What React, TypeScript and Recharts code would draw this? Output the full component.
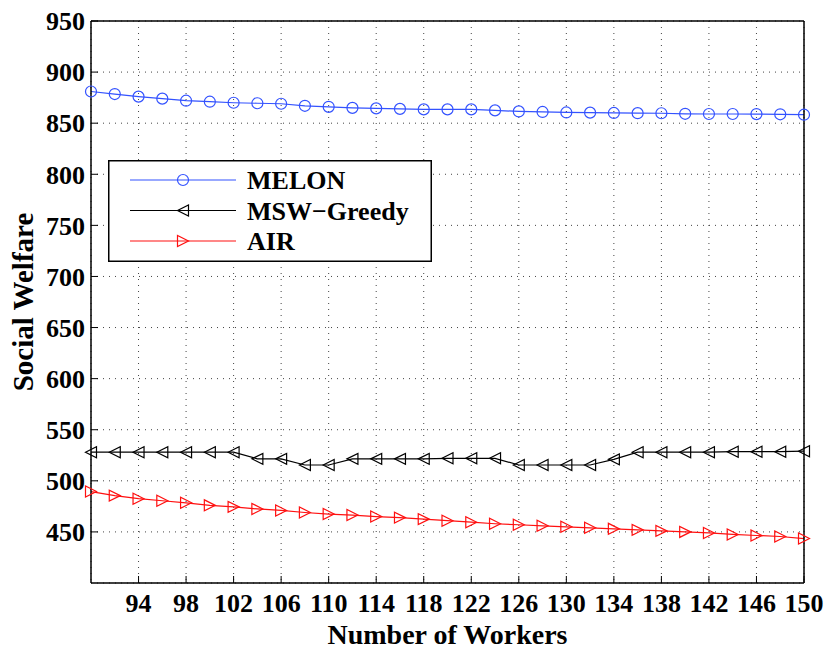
import { LineChart, Line, XAxis, YAxis, CartesianGrid, Legend } from 'recharts';

const workers = [90, 92, 94, 96, 98, 100, 102, 104, 106, 108, 110, 112, 114, 116, 118, 120, 122, 124, 126, 128, 130, 132, 134, 136, 138, 140, 142, 144, 146, 148, 150];
const melon = [881, 878.5, 876, 874, 872, 871, 870, 869.5, 869, 867, 866, 865, 864.5, 864, 863.5, 863.5, 863.5, 862.5, 861.5, 861, 860.5, 860.3, 860, 859.8, 859.7, 859.2, 859, 859, 858.9, 858.7, 858.3];
const mswGreedy = [528, 528, 528, 528, 528, 528, 528, 521.5, 521.5, 515.5, 515.5, 521.5, 521.5, 521.5, 521.5, 522, 522, 522, 515.5, 515.5, 515.5, 515.5, 521, 528, 528, 528, 528, 528.5, 528.5, 528.5, 529];
const air = [489.5, 485.5, 482.5, 480.5, 478.5, 476, 474.5, 472.5, 471, 469, 467.5, 466.5, 465, 464, 462.5, 461, 459.5, 458, 457, 456, 455, 454, 453, 452, 451, 450, 449, 447.5, 446.5, 445.5, 443.5];
const xTicks = [94, 98, 102, 106, 110, 114, 118, 122, 126, 130, 134, 138, 142, 146, 150];
const yTicks = [450, 500, 550, 600, 650, 700, 750, 800, 850, 900, 950];

const data = workers.map((w, i) => ({ workers: w, melon: melon[i], msw: mswGreedy[i], air: air[i] }));

const FONT = '"Liberation Serif", "Times New Roman", serif';
const BLUE = '#3352ff';
const RED = '#ff1010';
const BLACK = '#000000';

type Shape = 'circle' | 'left' | 'right';

function marker(shape: Shape, cx: number, cy: number, color: string, key?: number | string) {
  const s = 5.5;
  if (shape === 'circle') {
    return <circle key={key} cx={cx} cy={cy} r={s} fill="none" stroke={color} strokeWidth={1.2} />;
  }
  const d = shape === 'left'
    ? `M${cx - s},${cy} L${cx + s},${cy - s} L${cx + s},${cy + s} Z`
    : `M${cx + s},${cy} L${cx - s},${cy - s} L${cx - s},${cy + s} Z`;
  return <path key={key} d={d} fill="none" stroke={color} strokeWidth={1.2} />;
}

const dotFor = (shape: Shape, color: string) => (props: any) => marker(shape, props.cx, props.cy, color, props.index);

const series = [
  { key: 'melon', name: 'MELON', color: BLUE, shape: 'circle' as Shape },
  { key: 'msw', name: 'MSW\u2212Greedy', color: BLACK, shape: 'left' as Shape },
  { key: 'air', name: 'AIR', color: RED, shape: 'right' as Shape },
];

function LegendBox() {
  return (
    <svg width={324} height={102} style={{ display: 'block' }}>
      <rect x={0.75} y={0.75} width={322.5} height={100.5} fill="#fff" stroke="#000" strokeWidth={1.5} />
      {series.map((s, i) => {
        const y = 20 + i * 30.5;
        return (
          <g key={s.key}>
            <line x1={22} x2={128} y1={y} y2={y} stroke={s.color} strokeWidth={1.2} />
            {marker(s.shape, 75, y, s.color)}
            <text x={139} y={y} dy="0.35em" fontFamily={FONT} fontWeight="bold" fontSize={26} fill="#000">{s.name}</text>
          </g>
        );
      })}
    </svg>
  );
}

const tickStyle = { fill: '#000', fontSize: 26, fontWeight: 'bold', fontFamily: FONT };
const axisLine = { stroke: '#000', strokeWidth: 1.5 };
const tickLine = { stroke: '#000', strokeWidth: 1 };

export default function App() {
  return (
    <div style={{ width: 830, height: 653, background: '#fff' }}>
      <style>{'body{margin:0}'}</style>
      <LineChart width={830} height={653} data={data} margin={{ top: 0, right: 0, bottom: 0, left: 0 }}>
        <CartesianGrid stroke="#444" strokeDasharray="1 5" strokeWidth={1} />
        <XAxis
          dataKey="workers"
          type="number"
          domain={[90, 150]}
          ticks={xTicks}
          height={70}
          tick={tickStyle}
          tickSize={-7}
          tickMargin={18}
          axisLine={axisLine}
          tickLine={tickLine}
          label={{ value: 'Number of Workers', position: 'insideBottom', offset: 9, fill: '#000', fontSize: 28, fontWeight: 'bold', fontFamily: FONT }}
        />
        <XAxis
          xAxisId="top"
          orientation="top"
          dataKey="workers"
          type="number"
          domain={[90, 150]}
          ticks={xTicks}
          height={21}
          tick={false}
          tickSize={-7}
          axisLine={axisLine}
          tickLine={tickLine}
        />
        <YAxis
          type="number"
          domain={[400, 950]}
          ticks={yTicks}
          width={91}
          tick={tickStyle}
          tickSize={-7}
          tickMargin={13}
          axisLine={axisLine}
          tickLine={tickLine}
          label={{
            content: (props: any) => {
              const vb = props.viewBox;
              const x = vb.x + 33;
              const y = vb.y + vb.height / 2;
              return (
                <text x={x} y={y} transform={`rotate(-90, ${x}, ${y})`} textAnchor="middle" fontFamily={FONT} fontWeight="bold" fontSize={29} fill="#000">
                  Social Welfare
                </text>
              );
            },
          }}
        />
        <YAxis
          yAxisId="right"
          orientation="right"
          type="number"
          domain={[400, 950]}
          ticks={yTicks}
          width={26}
          tick={false}
          tickSize={-7}
          axisLine={axisLine}
          tickLine={tickLine}
        />
        <Legend
          layout="vertical"
          align="center"
          verticalAlign="middle"
          wrapperStyle={{ left: 108, top: 160, width: 324, height: 102 }}
          content={() => <LegendBox />}
        />
        {series.map((s) => (
          <Line
            key={s.key}
            dataKey={s.key}
            name={s.name}
            type="linear"
            stroke={s.color}
            strokeWidth={1.2}
            dot={dotFor(s.shape, s.color)}
            activeDot={false}
            isAnimationActive={false}
          />
        ))}
      </LineChart>
    </div>
  );
}
